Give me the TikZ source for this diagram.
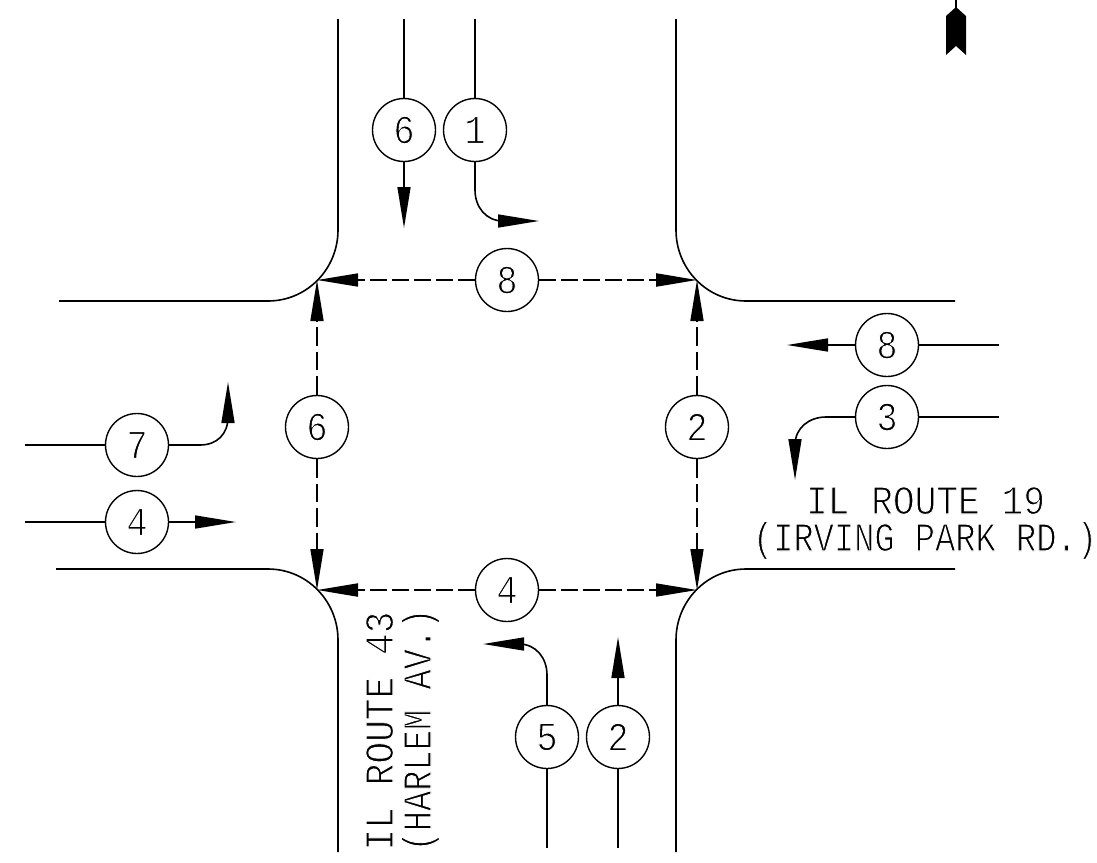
\documentclass[tikz,border=0pt]{standalone}
\usepackage{fontspec}
\usepackage{graphicx}
\setmainfont{Liberation Mono}
\usetikzlibrary{arrows.meta}
\newcommand{\thinon}{\special{pdf:code q 2 Tr 1 1 1 RG 0.9 w}}
\newcommand{\thinoff}{\special{pdf:code Q}}
\newcommand{\cadtext}[2][1]{\scalebox{#1}[1.15]{\fontsize{35.5pt}{40pt}\selectfont\thinon #2\thinoff}}
\tikzset{
  x=1pt,y=-1pt,
  road/.style={line width=1.6pt},
  move/.style={line width=1.6pt},
  tipmove/.style={line width=1.6pt,-{Triangle[length=41pt,width=13pt]}},
  tipped/.style={line width=1.6pt,dash pattern=on 17pt off 5pt,-{Triangle[length=41pt,width=13pt]}},
  tippedv/.style={line width=1.6pt,dash pattern=on 18.5pt off 6pt,-{Triangle[length=41pt,width=13pt]}},
  phase/.style={circle,draw,line width=1.4pt,fill=white,minimum size=63pt,inner sep=0pt},
  lbl/.style={inner sep=0pt,align=center,anchor=base}
}
\begin{document}
\begin{tikzpicture}
\useasboundingbox[fill=white] (0,0) rectangle (1097,862);
% corners
\coordinate (nw) at (317,280);
\coordinate (ne) at (697,280);
\coordinate (sw) at (317,590);
\coordinate (se) at (697,590);
% roads
\draw[road] (338,19) -- (338,230) .. controls (338,269) and (307,301) .. (268,301) -- (59,301);
\draw[road] (676,19) -- (676,230) .. controls (676,269) and (707,301) .. (746,301) -- (955,301);
\draw[road] (56,569) -- (268,569) .. controls (307,569) and (338,601) .. (338,640) -- (338,852);
\draw[road] (955,569) -- (746,569) .. controls (707,569) and (676,601) .. (676,640) -- (676,852);
% free ends
\coordinate (a6s) at (404,19); \coordinate (a1s) at (475,19);
\coordinate (a6e) at (404,228); \coordinate (a1e) at (539,221);
\coordinate (w8s) at (999,345); \coordinate (w3s) at (999,417);
\coordinate (w8e) at (787,345); \coordinate (w3e) at (795,480);
\coordinate (e7s) at (25,445); \coordinate (e4s) at (25,522);
\coordinate (e7e) at (228,382); \coordinate (e4e) at (236,522);
\coordinate (n5s) at (547,848); \coordinate (n2s) at (618,848);
\coordinate (n5e) at (483,644); \coordinate (n2e) at (618,637);
% phases
\node[phase] (a6) at (404,130) {\cadtext{6}};
\node[phase] (a1) at (475,130) {\cadtext{1}};
\node[phase] (p8) at (507,280) {\cadtext{8}};
\node[phase] (w8) at (887,345) {\cadtext{8}};
\node[phase] (w3) at (887,417) {\cadtext{3}};
\node[phase] (p6) at (317,427) {\cadtext{6}};
\node[phase] (p2) at (697,427) {\cadtext{2}};
\node[phase] (e7) at (137,445) {\cadtext{7}};
\node[phase] (e4) at (137,522) {\cadtext{4}};
\node[phase] (p4) at (507,590) {\cadtext{4}};
\node[phase] (n5) at (547,737) {\cadtext{5}};
\node[phase] (n2) at (618,737) {\cadtext{2}};
% approach lines
\draw[move] (a6s) -- (a6); \draw[move] (a1s) -- (a1);
\draw[move] (w8s) -- (w8); \draw[move] (w3s) -- (w3);
\draw[move] (e7s) -- (e7); \draw[move] (e4s) -- (e4);
\draw[move] (n5s) -- (n5); \draw[move] (n2s) -- (n2);
% movement arrows
\draw[tipmove] (a6) -- (a6e);
\draw[tipmove] (a1) -- (475,190) .. controls (475,207) and (486,221) .. (503,221) -- (a1e);
\draw[tipmove] (w8) -- (w8e);
\draw[tipmove] (w3) -- (826,417) .. controls (809,417) and (795,428) .. (795,445) -- (w3e);
\draw[tipmove] (e7) -- (200,445) .. controls (217,445) and (228,434) .. (228,417) -- (e7e);
\draw[tipmove] (e4) -- (e4e);
\draw[tipmove] (n5) -- (547,675) .. controls (547,658) and (536,644) .. (519,644) -- (n5e);
\draw[tipmove] (n2) -- (n2e);
% pedestrian
\draw[tipped] (p8) -- (nw); \draw[tipped,line width=2.2pt] (p8) -- (ne);
\draw[tipped,line width=2pt] (p4) -- (sw); \draw[tipped] (p4) -- (se);
\draw[tippedv] (p6) -- (nw); \draw[tippedv] (p6) -- (sw);
\draw[tippedv] (p2) -- (ne); \draw[tippedv] (p2) -- (se);
% labels
\node[lbl] (t1) at (925.5,514) {\cadtext[1.02]{IL ROUTE 19}};
\node[lbl] (t2) at (925,551) {\cadtext[0.95]{(IRVING PARK RD.)}};
\node[lbl,rotate=90] (t3) at (393,731) {\cadtext[1.02]{IL ROUTE 43}};
\node[lbl,rotate=90] (t4) at (431,730) {\cadtext[0.95]{(HARLEM AV.)}};
% north arrow
\draw[line width=1.6pt] (956,0) -- (956,10);
\fill (956,7) -- (966,16) -- (966,55) -- (956,46) -- (946,55) -- (946,16) -- cycle;
\end{tikzpicture}
\end{document}
